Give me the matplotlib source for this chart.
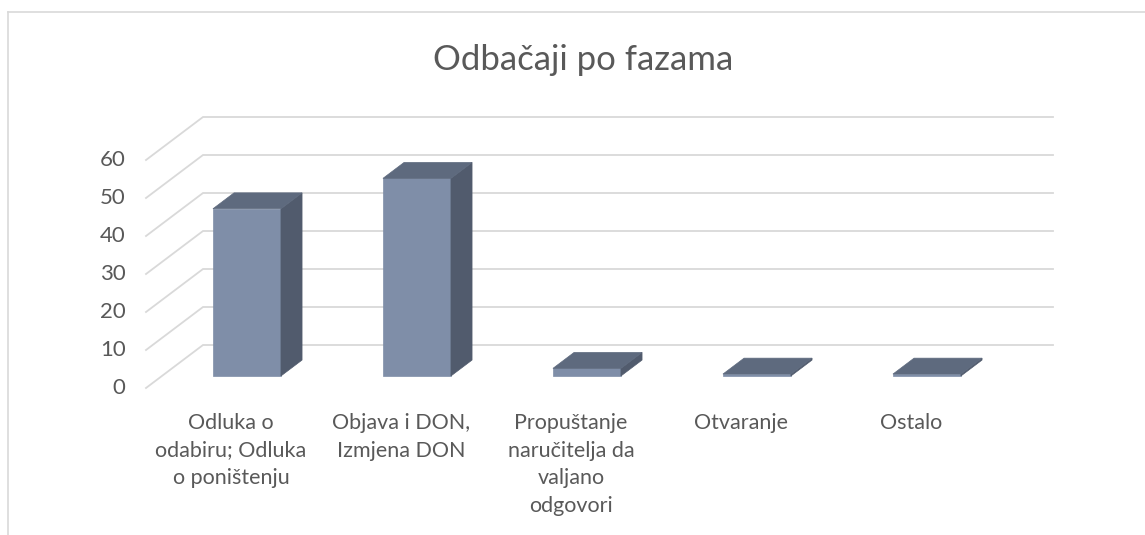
import matplotlib
matplotlib.use("Agg")
import matplotlib.pyplot as plt
from matplotlib.patches import Polygon
from matplotlib.lines import Line2D

# Data
categories = [
    "Odluka o\nodabiru; Odluka\no poništenju",
    "Objava i DON,\nIzmjena DON",
    "Propuštanje\nnaručitelja da\nvaljano\nodgovori",
    "Otvaranje",
    "Ostalo",
]
values = [44, 52, 2, 0, 0]
y_ticks = [0, 10, 20, 30, 40, 50, 60]
title = "Odbačaji po fazama"

# Layout (pixels of the 1145x535 canvas)
W, H = 1145, 535
x0_pix, y0_pix = 231, 388        # category 0 / value 0 on the front plane
px_cat, px_val = 170, 3.8        # pixels per category step / per value unit
DX, DY = 57 / px_cat, 43 / px_val  # full depth offset in data units
bar_w = 0.4
d_front, d_back = 0.28, 0.65
min_h = 0.5                      # zero bars still show as a thin slab

c_front = "#7F8EA8"
c_side = "#515B6D"
c_top = "#5E6A7E"
c_grid = "#D9D9D9"
c_text = "#595959"

plt.rcParams["font.family"] = ["Lato", "DejaVu Sans"]

fig = plt.figure(figsize=(W / 100, H / 100), dpi=100)
ax = fig.add_axes([0, 0, 1, 1])
ax.set_xlim(-x0_pix / px_cat, (W - x0_pix) / px_cat)
ax.set_ylim((y0_pix - H) / px_val, y0_pix / px_val)
ax.axis("off")


def proj(x, v, d):
    return (x + d * DX, v + d * DY)


# chart border
fig.add_artist(Line2D([8 / W, 8 / W], [0, 1 - 12 / H], color=c_grid, lw=1.2,
                      transform=fig.transFigure))
fig.add_artist(Line2D([8 / W, 1], [1 - 12 / H, 1 - 12 / H], color=c_grid, lw=1.2,
                      transform=fig.transFigure))

# gridlines: side wall diagonal + back wall horizontal
left, right = -0.5, len(categories) - 0.5
for t in y_ticks:
    xa, ya = proj(left, t, 0)
    xb, yb = proj(left, t, 1)
    xc, yc = proj(right, t, 1)
    ax.plot([xa, xb, xc], [ya, yb, yc], color=c_grid, lw=1.3, zorder=1,
            solid_joinstyle="miter")
    ax.text(xa - 0.12, t, str(t), ha="right", va="center", fontsize=16,
            color=c_text)

# bars
for i, v in enumerate(values):
    h = max(v, min_h)
    xl, xr = i - bar_w / 2, i + bar_w / 2
    front = [proj(xl, 0, d_front), proj(xr, 0, d_front),
             proj(xr, h, d_front), proj(xl, h, d_front)]
    side = [proj(xr, 0, d_front), proj(xr, 0, d_back),
            proj(xr, h, d_back), proj(xr, h, d_front)]
    top = [proj(xl, h, d_front), proj(xr, h, d_front),
           proj(xr, h, d_back), proj(xl, h, d_back)]
    ax.add_patch(Polygon(front, closed=True, fc=c_front, ec=c_front, lw=0.5, zorder=3))
    ax.add_patch(Polygon(side, closed=True, fc=c_side, ec=c_side, lw=0.5, zorder=3))
    ax.add_patch(Polygon(top, closed=True, fc=c_top, ec=c_top, lw=0.5, zorder=3))

# category labels
for i, lab in enumerate(categories):
    ax.text(i, (y0_pix - 413) / px_val, lab, ha="center", va="top",
            fontsize=15.5, color=c_text, linespacing=1.47)

fig.text(583 / W, 1 - 60 / H, title, ha="center", va="center", fontsize=25,
         color=c_text)

fig.savefig("out.png", dpi=100, facecolor="white")
